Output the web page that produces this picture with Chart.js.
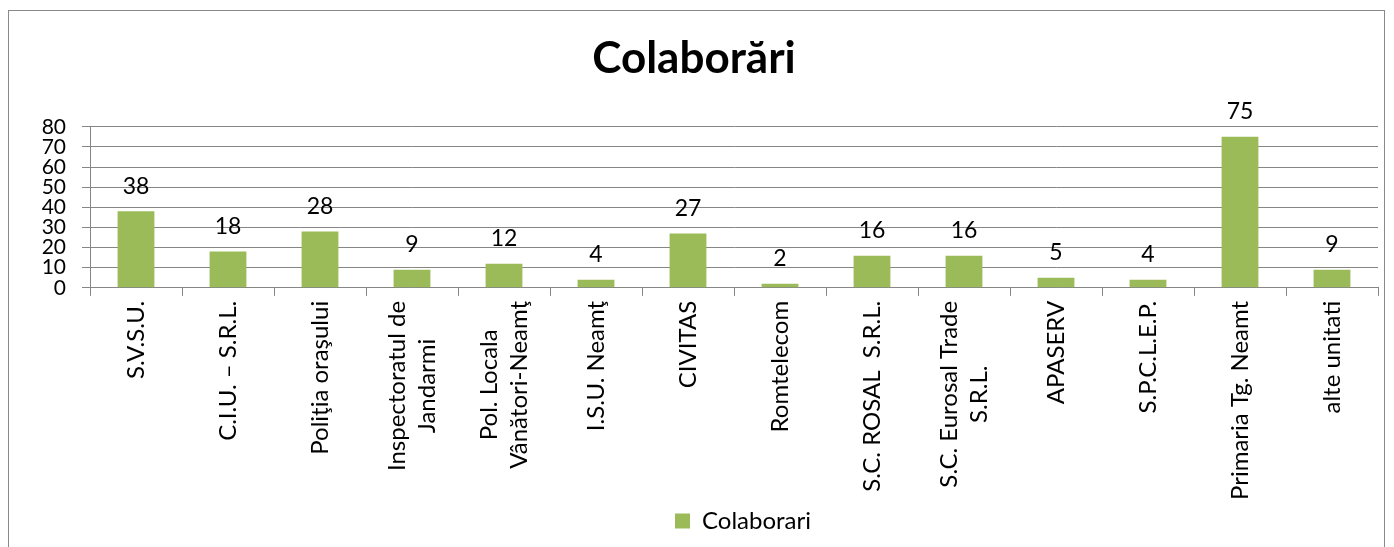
<!DOCTYPE html>
<html>
<head>
<meta charset="utf-8">
<script src="https://cdn.jsdelivr.net/npm/chart.js@4"></script>
<style>
  html, body { margin: 0; padding: 0; background: #fff; overflow: hidden; }
  #wrap { position: relative; width: 1394px; height: 547px; }
  #frame { position: absolute; left: 8px; top: 10px; width: 1377px; height: 600px; border: 1px solid #898989; box-sizing: border-box; }
  canvas { position: absolute; left: 0; top: 0; }
</style>
</head>
<body>
<div id="wrap">
  <div id="frame"></div>
  <canvas id="c" width="1394" height="547"></canvas>
</div>
<script>
const categories = [
  'S.V.S.U.',
  'C.I.U. – S.R.L.',
  'Poliţia oraşului',
  ['Inspectoratul de', 'Jandarmi'],
  ['Pol. Locala', 'Vânători-Neamţ'],
  'I.S.U. Neamţ',
  'CIVITAS',
  'Romtelecom',
  'S.C. ROSAL  S.R.L.',
  ['S.C. Eurosal Trade', 'S.R.L.'],
  'APASERV',
  'S.P.C.L.E.P.',
  'Primaria Tg. Neamt',
  'alte unitati'
];
const colaborari = [38, 18, 28, 9, 12, 4, 27, 2, 16, 16, 5, 4, 75, 9];
const yTicks = [0, 10, 20, 30, 40, 50, 60, 70, 80];

const fontFamily = 'Lato, "Open Sans", sans-serif';
const gridColor = '#868686';
const barColor = '#9BBB59';
const xFontSize = 24;

// values above each bar
const valueLabels = {
  id: 'valueLabels',
  afterDatasetsDraw(chart) {
    const ctx = chart.ctx;
    const meta = chart.getDatasetMeta(0);
    ctx.save();
    ctx.font = '23px ' + fontFamily;
    ctx.fillStyle = '#000';
    ctx.textAlign = 'center';
    ctx.textBaseline = 'middle';
    meta.data.forEach((bar, i) => {
      ctx.fillText(colaborari[i], bar.x, bar.y - 25);
    });
    ctx.restore();
  }
};

// rotated category labels, multi-line ones centered like in Excel
const xLabels = {
  id: 'xLabels',
  afterDraw(chart) {
    const ctx = chart.ctx;
    const xs = chart.scales.x;
    const top = xs.top + 8 + 5;
    const lh = 30;
    ctx.save();
    ctx.font = xFontSize + 'px ' + fontFamily;
    ctx.fillStyle = '#000';
    ctx.textAlign = 'center';
    ctx.textBaseline = 'middle';
    categories.forEach((lab, i) => {
      const lines = Array.isArray(lab) ? lab : [lab];
      const w = Math.max(...lines.map(l => ctx.measureText(l).width));
      ctx.save();
      ctx.translate(xs.getPixelForTick(i), top);
      ctx.rotate(-Math.PI / 2);
      lines.forEach((l, k) => {
        ctx.fillText(l, -w / 2, (k - (lines.length - 1) / 2) * lh);
      });
      ctx.restore();
    });
    ctx.restore();
  }
};

// legend centred under the plot area
const legendShift = {
  id: 'legendShift',
  afterLayout(chart) {
    const lg = chart.legend;
    const ca = chart.chartArea;
    const dx = (ca.left + ca.right) / 2 + 9 - (lg.left + lg.right) / 2;
    lg.left += dx;
    lg.right += dx;
  }
};

new Chart(document.getElementById('c'), {
  type: 'bar',
  data: {
    labels: categories,
    datasets: [{
      label: 'Colaborari',
      data: colaborari,
      backgroundColor: barColor,
      borderWidth: 0,
      barPercentage: 0.4,
      categoryPercentage: 1
    }]
  },
  options: {
    responsive: false,
    animation: false,
    layout: { padding: { left: 10, right: 16, top: 12, bottom: 4 } },
    plugins: {
      title: {
        display: true,
        text: 'Colaborări',
        color: '#000',
        font: { family: fontFamily, size: 44, weight: 'bold' },
        padding: { top: 20, bottom: 42 }
      },
      legend: {
        position: 'bottom',
        labels: {
          color: '#000',
          font: { family: fontFamily, size: 24 },
          boxWidth: 15,
          boxHeight: 15,
          padding: 6
        }
      },
      tooltip: { enabled: false }
    },
    scales: {
      x: {
        grid: {
          offset: true,
          drawOnChartArea: false,
          color: gridColor,
          tickLength: 8
        },
        border: { color: gridColor, width: 1 },
        ticks: {
          color: 'rgba(0,0,0,0)',
          font: { family: fontFamily, size: xFontSize },
          minRotation: 90,
          maxRotation: 90,
          autoSkip: false,
          padding: 4
        }
      },
      y: {
        min: 0,
        max: 80,
        afterBuildTicks(scale) {
          scale.ticks = yTicks.map(v => ({ value: v }));
        },
        afterFit(scale) {
          scale.width = 80;
        },
        grid: { color: gridColor, tickLength: 8 },
        border: { color: gridColor, width: 1 },
        ticks: {
          color: '#000',
          font: { family: fontFamily, size: 21 },
          autoSkip: false,
          padding: 16
        }
      }
    }
  },
  plugins: [valueLabels, xLabels, legendShift]
});
</script>
</body>
</html>
